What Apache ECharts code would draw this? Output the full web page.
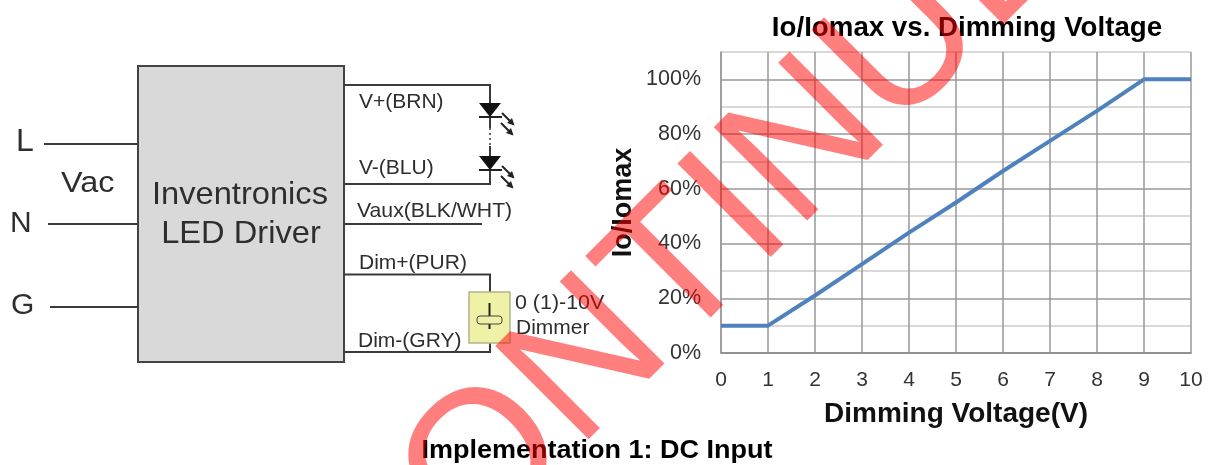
<!DOCTYPE html>
<html><head><meta charset="utf-8">
<style>html,body{margin:0;padding:0;background:#fff}#c{width:1211px;height:465px}</style>
<script src="https://cdn.jsdelivr.net/npm/echarts@6/dist/echarts.min.js"></script>
</head><body><div id="c"></div>
<script>
const voltage = [0,1,2,3,4,5,6,7,8,9,10];
const ratio = [10,10,21,32.5,44,55,66.5,77.5,88.5,100,100];
const chartTitle = 'Io/Iomax vs. Dimming Voltage';
const xName = 'Dimming Voltage(V)';
const yName = 'Io/Iomax';
const caption = 'Implementation 1: DC Input';
const watermark = 'DISCONTINUED';
const F = '"Liberation Sans", Arial, sans-serif';
const ink = '#3a3a3a';
const g = [];
const line = (pts, w=2, c=ink, extra={}) => g.push({type:'polyline',silent:true,shape:{points:pts},style:Object.assign({stroke:c,lineWidth:w,fill:null},extra)});
const poly = (pts, c='#111') => g.push({type:'polygon',silent:true,shape:{points:pts},style:{fill:c}});
const label = (t,x,y,size,sx=1,extra={}) => g.push({type:'text',silent:true,x,y,scaleX:sx,style:Object.assign({text:t,font:`${size}px ${F}`,fill:'#2e2e2e',textAlign:'left',textVerticalAlign:'middle'},extra)});
// driver box
g.push({type:'rect',silent:true,shape:{x:138,y:66,width:206,height:296},style:{fill:'#d9d9d9',stroke:'#444',lineWidth:2}});
// input wires
line([[44,144],[138,144]]); line([[48,224],[138,224]]); line([[50,307],[138,307]]);
// output wires
line([[344,85],[490,85],[490,128]]);
line([[490,146],[490,184],[344,184]]);
line([[490,128],[490,146]],1.5,ink,{lineDash:[2,3]});
line([[344,224],[482,224]]);
line([[344,274.5],[490,274.5],[490,292]]);
line([[490,343],[490,352],[344,352]]);
// LEDs
[103,156].forEach(y=>{
  poly([[479,y],[501,y],[490,y+14]]);
  line([[479,y+14],[502,y+14]],2,'#222');
  [[[502,y+10],[513,y+21]],[[501,y+20],[512,y+31]]].forEach(a=>{
    line(a,2,'#222');
    const [ex,ey]=a[1];
    poly([[ex+1.5,ey+1.5],[ex-6,ey-1],[ex-1,ey-6]],'#222');
  });
});
// dimmer
g.push({type:'rect',silent:true,shape:{x:469,y:292,width:41,height:51},style:{fill:'#eef1a6',stroke:'#b3b38c',lineWidth:1.5}});
line([[489.5,303],[489.5,329]],2,'#222');
g.push({type:'rect',silent:true,shape:{x:477,y:316,width:25,height:8,r:3},style:{fill:'#eef1a6',stroke:'#444',lineWidth:1}});
// labels
label('L',16,142,32); label('Vac',61,184,30,1.08); label('N',10,224,30); label('G',11,306,30);
label('Inventronics',240,195,32,1.02,{textAlign:'center'});
label('LED Driver',241,234,32,1.02,{textAlign:'center'});
label('V+(BRN)',359,102,21); label('V-(BLU)',359,168,21); label('Vaux(BLK/WHT)',357,211,21,1.01);
label('Dim+(PUR)',359,263,21); label('Dim-(GRY)',358,341,21);
label('0 (1)-10V',515,303,21,1.02); label('Dimmer',516,328,21);
label(caption,597,451,25,1.08,{textAlign:'center',fill:'#000',font:`bold 25px ${F}`});
// watermark
g.push({type:'text',silent:true,z:100,x:110,y:843,rotation:45*Math.PI/180,
  style:{text:watermark,font:`192px ${F}`,fill:'rgba(255,0,0,0.5)',textAlign:'left',textVerticalAlign:'middle'}});

const chart = echarts.init(document.getElementById('c'),null,{renderer:'canvas'});
chart.setOption({
  animation:false,
  backgroundColor:'#fff',
  title:{text:chartTitle,left:962,top:9,textAlign:'center',textStyle:{fontFamily:F,fontWeight:'bold',fontSize:27.7,color:'#000'}},
  grid:{left:721,right:20,top:52,bottom:112,containLabel:false},
  xAxis:{type:'value',min:0,max:10,interval:1,name:xName,nameLocation:'middle',nameGap:47,
    nameTextStyle:{fontFamily:F,fontWeight:'bold',fontSize:28,color:'#111'},
    axisLine:{lineStyle:{color:'#888',width:1.5}},axisTick:{show:false},
    axisLabel:{fontFamily:F,fontSize:21,color:'#333',margin:17},
    splitLine:{show:true,lineStyle:{color:'#999',width:1.5}}},
  yAxis:{type:'value',min:0,max:110,interval:10,name:yName,nameLocation:'middle',nameGap:84,nameRotate:90,
    nameTextStyle:{fontFamily:F,fontWeight:'bold',fontSize:27,color:'#111'},
    axisLine:{show:true,lineStyle:{color:'#999',width:1.5}},axisTick:{show:false},
    axisLabel:{fontFamily:F,fontSize:21.5,color:'#333',margin:20,padding:[2,0,0,0],formatter:v=>(v%20===0&&v<=100)?v+'%':''},
    splitLine:{show:true,lineStyle:{color:['#999','#ccc'],width:1.5}}},
  series:[{type:'line',data:voltage.map((v,i)=>[v,ratio[i]]),showSymbol:false,lineStyle:{color:'#4f81bd',width:4},z:5}],
  graphic:{elements:g}
});
</script></body></html>
